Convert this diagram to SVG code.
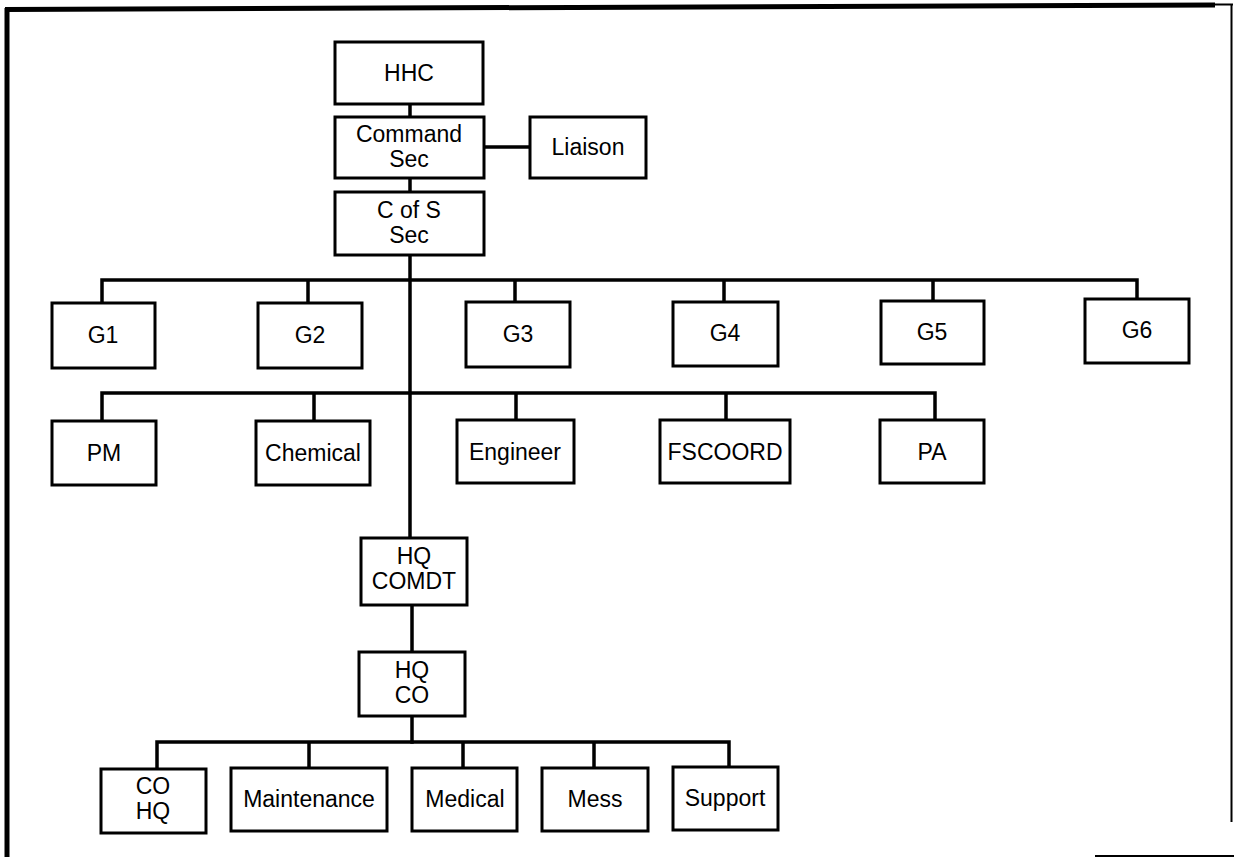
<svg xmlns="http://www.w3.org/2000/svg" width="1234" height="857" viewBox="0 0 1234 857">
<style>
.box{fill:#fff;stroke:#000;stroke-width:3}
.lbl{font-family:"Liberation Sans",Arial,sans-serif;font-size:23px;fill:#000;text-anchor:middle}
.con{fill:none;stroke:#000;stroke-width:3.5;stroke-linecap:square}
.frame{fill:none;stroke:#000}
</style>
<rect width="1234" height="857" fill="#fff"/>
<g id="frame">
<line class="frame" x1="7" y1="8" x2="7" y2="857" stroke-width="5"/>
<line class="frame" x1="5" y1="9.5" x2="1215" y2="5" stroke-width="5"/>
<line class="frame" x1="1215" y1="4.5" x2="1233" y2="4.5" stroke-width="2"/>
<line class="frame" x1="1231.5" y1="4" x2="1231.5" y2="822" stroke-width="2"/>
<line class="frame" x1="1095" y1="856" x2="1234" y2="856" stroke-width="2"/>
</g>
<g id="connectors">
<path class="con" d="M410 104V117M410 178V192M484 147H530"/>
<path class="con" d="M410 255V538" stroke-width="2.5"/>
<path class="con" d="M102 303V280H1137V299M308 280V303M515 280V302M724 280V302M933 280V301"/>
<path class="con" d="M102 421V393H935V420M314 393V421M516 393V420M726 393V420"/>
<path class="con" d="M412 605V652M412 716V742"/>
<path class="con" d="M157 768V742H729V767M309 742V768M463 742V768M594 742V768"/>
</g>
<g id="n-hhc"><rect class="box" x="335" y="42" width="148" height="62"/><text class="lbl" x="409" y="81">HHC</text></g>
<g id="n-command-sec"><rect class="box" x="335" y="117" width="149" height="61"/><text class="lbl" x="409" y="142">Command</text><text class="lbl" x="409" y="167">Sec</text></g>
<g id="n-liaison"><rect class="box" x="530" y="117" width="116" height="61"/><text class="lbl" x="588" y="155">Liaison</text></g>
<g id="n-cofs-sec"><rect class="box" x="335" y="192" width="149" height="63"/><text class="lbl" x="409" y="218">C of S</text><text class="lbl" x="409" y="243">Sec</text></g>
<g id="n-g1"><rect class="box" x="52" y="303" width="103" height="65"/><text class="lbl" x="103" y="343">G1</text></g>
<g id="n-g2"><rect class="box" x="258" y="303" width="104" height="65"/><text class="lbl" x="310" y="343">G2</text></g>
<g id="n-g3"><rect class="box" x="466" y="302" width="104" height="65"/><text class="lbl" x="518" y="342">G3</text></g>
<g id="n-g4"><rect class="box" x="673" y="302" width="105" height="64"/><text class="lbl" x="725" y="341">G4</text></g>
<g id="n-g5"><rect class="box" x="881" y="301" width="103" height="63"/><text class="lbl" x="932" y="340">G5</text></g>
<g id="n-g6"><rect class="box" x="1085" y="299" width="104" height="64"/><text class="lbl" x="1137" y="338">G6</text></g>
<g id="n-pm"><rect class="box" x="52" y="421" width="104" height="64"/><text class="lbl" x="104" y="461">PM</text></g>
<g id="n-chemical"><rect class="box" x="256" y="421" width="114" height="64"/><text class="lbl" x="313" y="461">Chemical</text></g>
<g id="n-engineer"><rect class="box" x="457" y="420" width="117" height="63"/><text class="lbl" x="515" y="460">Engineer</text></g>
<g id="n-fscoord"><rect class="box" x="660" y="420" width="130" height="63"/><text class="lbl" x="725" y="460">FSCOORD</text></g>
<g id="n-pa"><rect class="box" x="880" y="420" width="104" height="63"/><text class="lbl" x="932" y="460">PA</text></g>
<g id="n-hq-comdt"><rect class="box" x="361" y="538" width="106" height="67"/><text class="lbl" x="414" y="564">HQ</text><text class="lbl" x="414" y="589">COMDT</text></g>
<g id="n-hq-co"><rect class="box" x="359" y="652" width="106" height="64"/><text class="lbl" x="412" y="678">HQ</text><text class="lbl" x="412" y="703">CO</text></g>
<g id="n-co-hq"><rect class="box" x="101" y="769" width="105" height="64"/><text class="lbl" x="153" y="794">CO</text><text class="lbl" x="153" y="819">HQ</text></g>
<g id="n-maintenance"><rect class="box" x="231" y="768" width="156" height="63"/><text class="lbl" x="309" y="807">Maintenance</text></g>
<g id="n-medical"><rect class="box" x="412" y="768" width="105" height="63"/><text class="lbl" x="465" y="807">Medical</text></g>
<g id="n-mess"><rect class="box" x="542" y="768" width="106" height="63"/><text class="lbl" x="595" y="807">Mess</text></g>
<g id="n-support"><rect class="box" x="673" y="767" width="105" height="63"/><text class="lbl" x="725" y="806">Support</text></g>
</svg>
